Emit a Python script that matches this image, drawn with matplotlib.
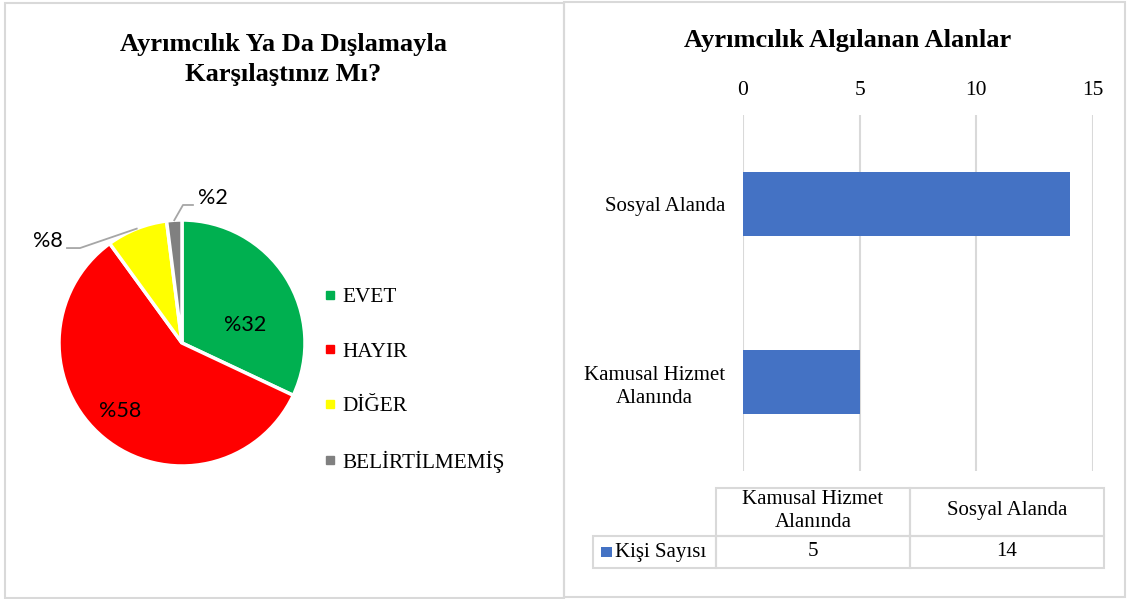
import matplotlib
matplotlib.use("Agg")
import matplotlib.pyplot as plt
from matplotlib.patches import Rectangle
from matplotlib.lines import Line2D
import numpy as np

# ---------------- data ----------------
pie_title = "Ayrımcılık Ya Da Dışlamayla\nKarşılaştınız Mı?"
pie_labels = ["EVET", "HAYIR", "DİĞER", "BELİRTİLMEMİŞ"]
pie_values = [32, 58, 8, 2]
pie_texts = ["%32", "%58", "%8", "%2"]
pie_colors = ["#00B050", "#FF0000", "#FFFF00", "#808080"]

bar_title = "Ayrımcılık Algılanan Alanlar"
bar_categories = ["Kamusal Hizmet\nAlanında", "Sosyal Alanda"]
bar_values = [5, 14]
bar_series = "Kişi Sayısı"
bar_color = "#4472C4"
x_ticks = [0, 5, 10, 15]

# ---------------- layout helpers ----------------
W, H = 1127, 599
fig = plt.figure(figsize=(W / 100, H / 100), dpi=100)
fig.patch.set_facecolor("white")
SERIF = ["Liberation Serif", "DejaVu Serif"]
SANS = ["Lato", "DejaVu Sans"]
GRID = "#D9D9D9"


def fx(x):
    return x / W


def fy(y):
    return 1 - y / H


def box(x0, y0, x1, y1, lw=1.5, color=GRID):
    fig.patches.append(Rectangle((fx(x0), fy(y1)), fx(x1) - fx(x0), fy(y0) - fy(y1),
                                 transform=fig.transFigure, fill=False,
                                 edgecolor=color, linewidth=lw))


# panel borders
box(5, 3, 564, 598)
box(564, 2, 1125, 597)

# ---------------- pie chart ----------------
fig.text(fx(283), fy(59.5), pie_title, ha="center", va="center", family=SERIF,
         fontsize=19, fontweight="bold", linespacing=1.38)

cx, cy, r = 182, 343, 123
axp = fig.add_axes([fx(cx - r), fy(cy + r), (2 * r) / W, (2 * r) / H])
wedges, _ = axp.pie(pie_values, colors=pie_colors, startangle=90, counterclock=False,
                    radius=1, wedgeprops=dict(edgecolor="white", linewidth=2.5))
axp.set_xlim(-1, 1)
axp.set_ylim(-1, 1)
axp.set_aspect("equal")
axp.axis("off")

# label placements (in radius units) and leader lines for small slices
label_pos = [(0.51, 0.15), (-0.50, -0.55), (-0.97, 0.83), (0.13, 1.18)]
label_ha = ["center", "center", "right", "left"]
leader_elbow = [None, None, (-0.829, 0.772, -0.935), (0.008, 1.122, 0.089)]
for w, txt, pos, ha, elbow in zip(wedges, pie_texts, label_pos, label_ha, leader_elbow):
    axp.text(pos[0], pos[1], txt, ha=ha, va="center", family=SANS, fontsize=15.5,
             color="black", clip_on=False)
    if elbow is not None:
        mid = np.deg2rad((w.theta1 + w.theta2) / 2)
        sx, sy = np.cos(mid) * 1.0, np.sin(mid) * 1.0
        axp.add_line(Line2D([sx, elbow[0], elbow[2]], [sy, elbow[1], elbow[1]],
                            color="#A6A6A6", linewidth=1.3, clip_on=False))

# legend
handles = [Line2D([], [], linestyle="none", marker="s", markersize=5.5,
                  markerfacecolor=c, markeredgecolor=c) for c in pie_colors]
fig.legend(handles, pie_labels, loc="center left", bbox_to_anchor=(fx(325), fy(380)),
           frameon=False, prop=dict(family=SERIF, size=15.3), handlelength=0.5,
           handletextpad=0.3, labelspacing=1.62, borderaxespad=0, borderpad=0)

# ---------------- bar chart ----------------
fig.text(fx(848), fy(40), bar_title, ha="center", va="center", family=SERIF,
         fontsize=19, fontweight="bold")

x0, x1, y0, y1 = 743, 1093, 115, 471
axb = fig.add_axes([fx(x0), fy(y1), (x1 - x0) / W, (y1 - y0) / H])
ypos = np.arange(len(bar_categories))
axb.barh(ypos, bar_values, height=0.355, color=bar_color, zorder=3)
axb.set_xlim(0, 15)
axb.set_ylim(-0.5, len(bar_categories) - 0.5)
axb.set_xticks(x_ticks)
axb.xaxis.tick_top()
axb.set_yticks(ypos)
axb.set_yticklabels(bar_categories, family=SERIF, fontsize=15, ha="right",
                    multialignment="center", linespacing=1.3)
axb.tick_params(axis="y", length=0, pad=13)
axb.tick_params(axis="x", length=0, pad=10.5, labelsize=15.5)
for lab in axb.get_xticklabels():
    lab.set_family(SERIF)
axb.grid(axis="x", color=GRID, linewidth=1.5, zorder=0)
for s in axb.spines.values():
    s.set_visible(False)

# ---------------- data table ----------------
row_x = [593, 716, 910, 1104]
row_y = [488, 536, 568]
tlw = 1.5
# header cells
for i in range(len(bar_categories)):
    box(row_x[i + 1], row_y[0], row_x[i + 2], row_y[1], lw=tlw)
# data row
for i in range(len(bar_categories) + 1):
    box(row_x[i], row_y[1], row_x[i + 1], row_y[2], lw=tlw)

for i, (cat, val) in enumerate(zip(bar_categories, bar_values)):
    xc = (row_x[i + 1] + row_x[i + 2]) / 2
    fig.text(fx(xc), fy((row_y[0] + row_y[1]) / 2 - 1), cat, ha="center", va="center",
             family=SERIF, fontsize=15, linespacing=1.32)
    fig.text(fx(xc), fy((row_y[1] + row_y[2]) / 2 - 0.5), str(val), ha="center", va="center",
             family=SERIF, fontsize=15)

fig.patches.append(Rectangle((fx(601), fy(557)), 11 / W, 10 / H, transform=fig.transFigure,
                             facecolor=bar_color, edgecolor="none"))
fig.text(fx(615), fy(552), bar_series, ha="left", va="center", family=SERIF, fontsize=15)

fig.savefig("out.png", dpi=100, facecolor="white")
